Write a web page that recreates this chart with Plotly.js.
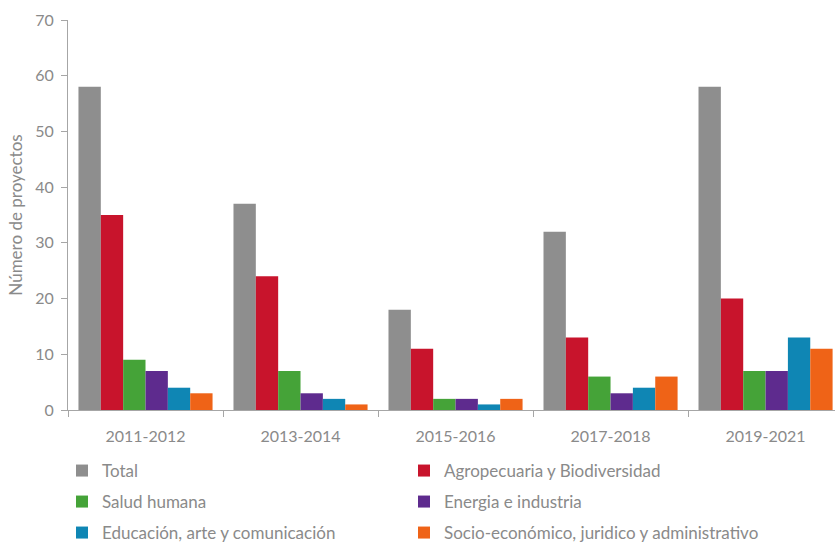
<!DOCTYPE html>
<html>
<head>
<meta charset="utf-8">
<script src="https://cdn.plot.ly/plotly-3.0.1.min.js"></script>
<style>html,body{margin:0;padding:0;background:#fff;}#chart{width:835px;height:542px;}</style>
</head>
<body>
<div id="chart"></div>
<script>
const categories = ["2011-2012", "2013-2014", "2015-2016", "2017-2018", "2019-2021"];
const seriesNames = ["Total", "Agropecuaria y Biodiversidad", "Salud humana", "Energia e industria", "Educación, arte y comunicación", "Socio-económico, juridico y administrativo"];
const total = [58, 37, 18, 32, 58];
const agro = [35, 24, 11, 13, 20];
const salud = [9, 7, 2, 6, 7];
const energia = [7, 3, 2, 3, 7];
const educacion = [4, 2, 1, 4, 13];
const socio = [3, 1, 2, 6, 11];
const yTickVals = [0, 10, 20, 30, 40, 50, 60, 70];

const seriesValues = [total, agro, salud, energia, educacion, socio];
const colors = ["#8e8e8e", "#c8142c", "#45a338", "#5e2b8e", "#0f86b4", "#ef6317"];
const legendIds = ["legend", "legend2", "legend3", "legend4", "legend5", "legend6"];

const FONT = "Lato, 'Open Sans', sans-serif";
const TXT = "#8a8a8a";

const data = seriesValues.map((vals, i) => ({
  type: "bar",
  name: seriesNames[i],
  x: categories,
  y: vals,
  marker: {color: colors[i], line: {width: 0}},
  legend: legendIds[i],
  hoverinfo: "x+y+name"
}));

// plot area: x 68..835, y 20..410
function px2x(px) { return (px - 68) / 767; }
function py2y(py) { return (410 - py) / 390; }
const rowY = [471, 502, 533];
const colX = [82, 424];

const layout = {
  width: 835,
  height: 542,
  margin: {l: 68, r: 0, t: 20, b: 132, autoexpand: false},
  paper_bgcolor: "#ffffff",
  plot_bgcolor: "#ffffff",
  font: {family: FONT, size: 16, color: TXT},
  barmode: "group",
  bargap: 0.135,
  bargroupgap: 0,
  xaxis: {
    type: "category",
    range: [-0.5, 4.448],
    showline: true,
    linecolor: "#a6a6a6",
    linewidth: 1,
    ticks: "outside",
    tickson: "boundaries",
    ticklen: 6,
    tickcolor: "#a6a6a6",
    showgrid: false,
    zeroline: false,
    tickfont: {family: FONT, size: 16, color: TXT},
    ticklabelstandoff: 12
  },
  yaxis: {
    range: [0, 70],
    tickvals: yTickVals,
    showline: true,
    linecolor: "#a6a6a6",
    linewidth: 1,
    ticks: "outside",
    ticklen: 6,
    tickcolor: "#a6a6a6",
    showgrid: false,
    zeroline: false,
    tickfont: {family: FONT, size: 16, color: TXT},
    ticklabelstandoff: 4,
    title: {text: "Número de proyectos", font: {family: FONT, size: 17, color: TXT}, standoff: 8}
  },
  showlegend: true
};

legendIds.forEach((id, i) => {
  const row = Math.floor(i / 2), col = i % 2;
  layout[id] = {
    x: px2x(colX[col] - 20),
    y: py2y(rowY[row]),
    xanchor: "left",
    yanchor: "middle",
    orientation: "h",
    bgcolor: "rgba(0,0,0,0)",
    borderwidth: 0,
    font: {family: FONT, size: 17, color: TXT}
  };
});

Plotly.newPlot("chart", data, layout, {displayModeBar: false, staticPlot: true});
</script>
</body>
</html>
